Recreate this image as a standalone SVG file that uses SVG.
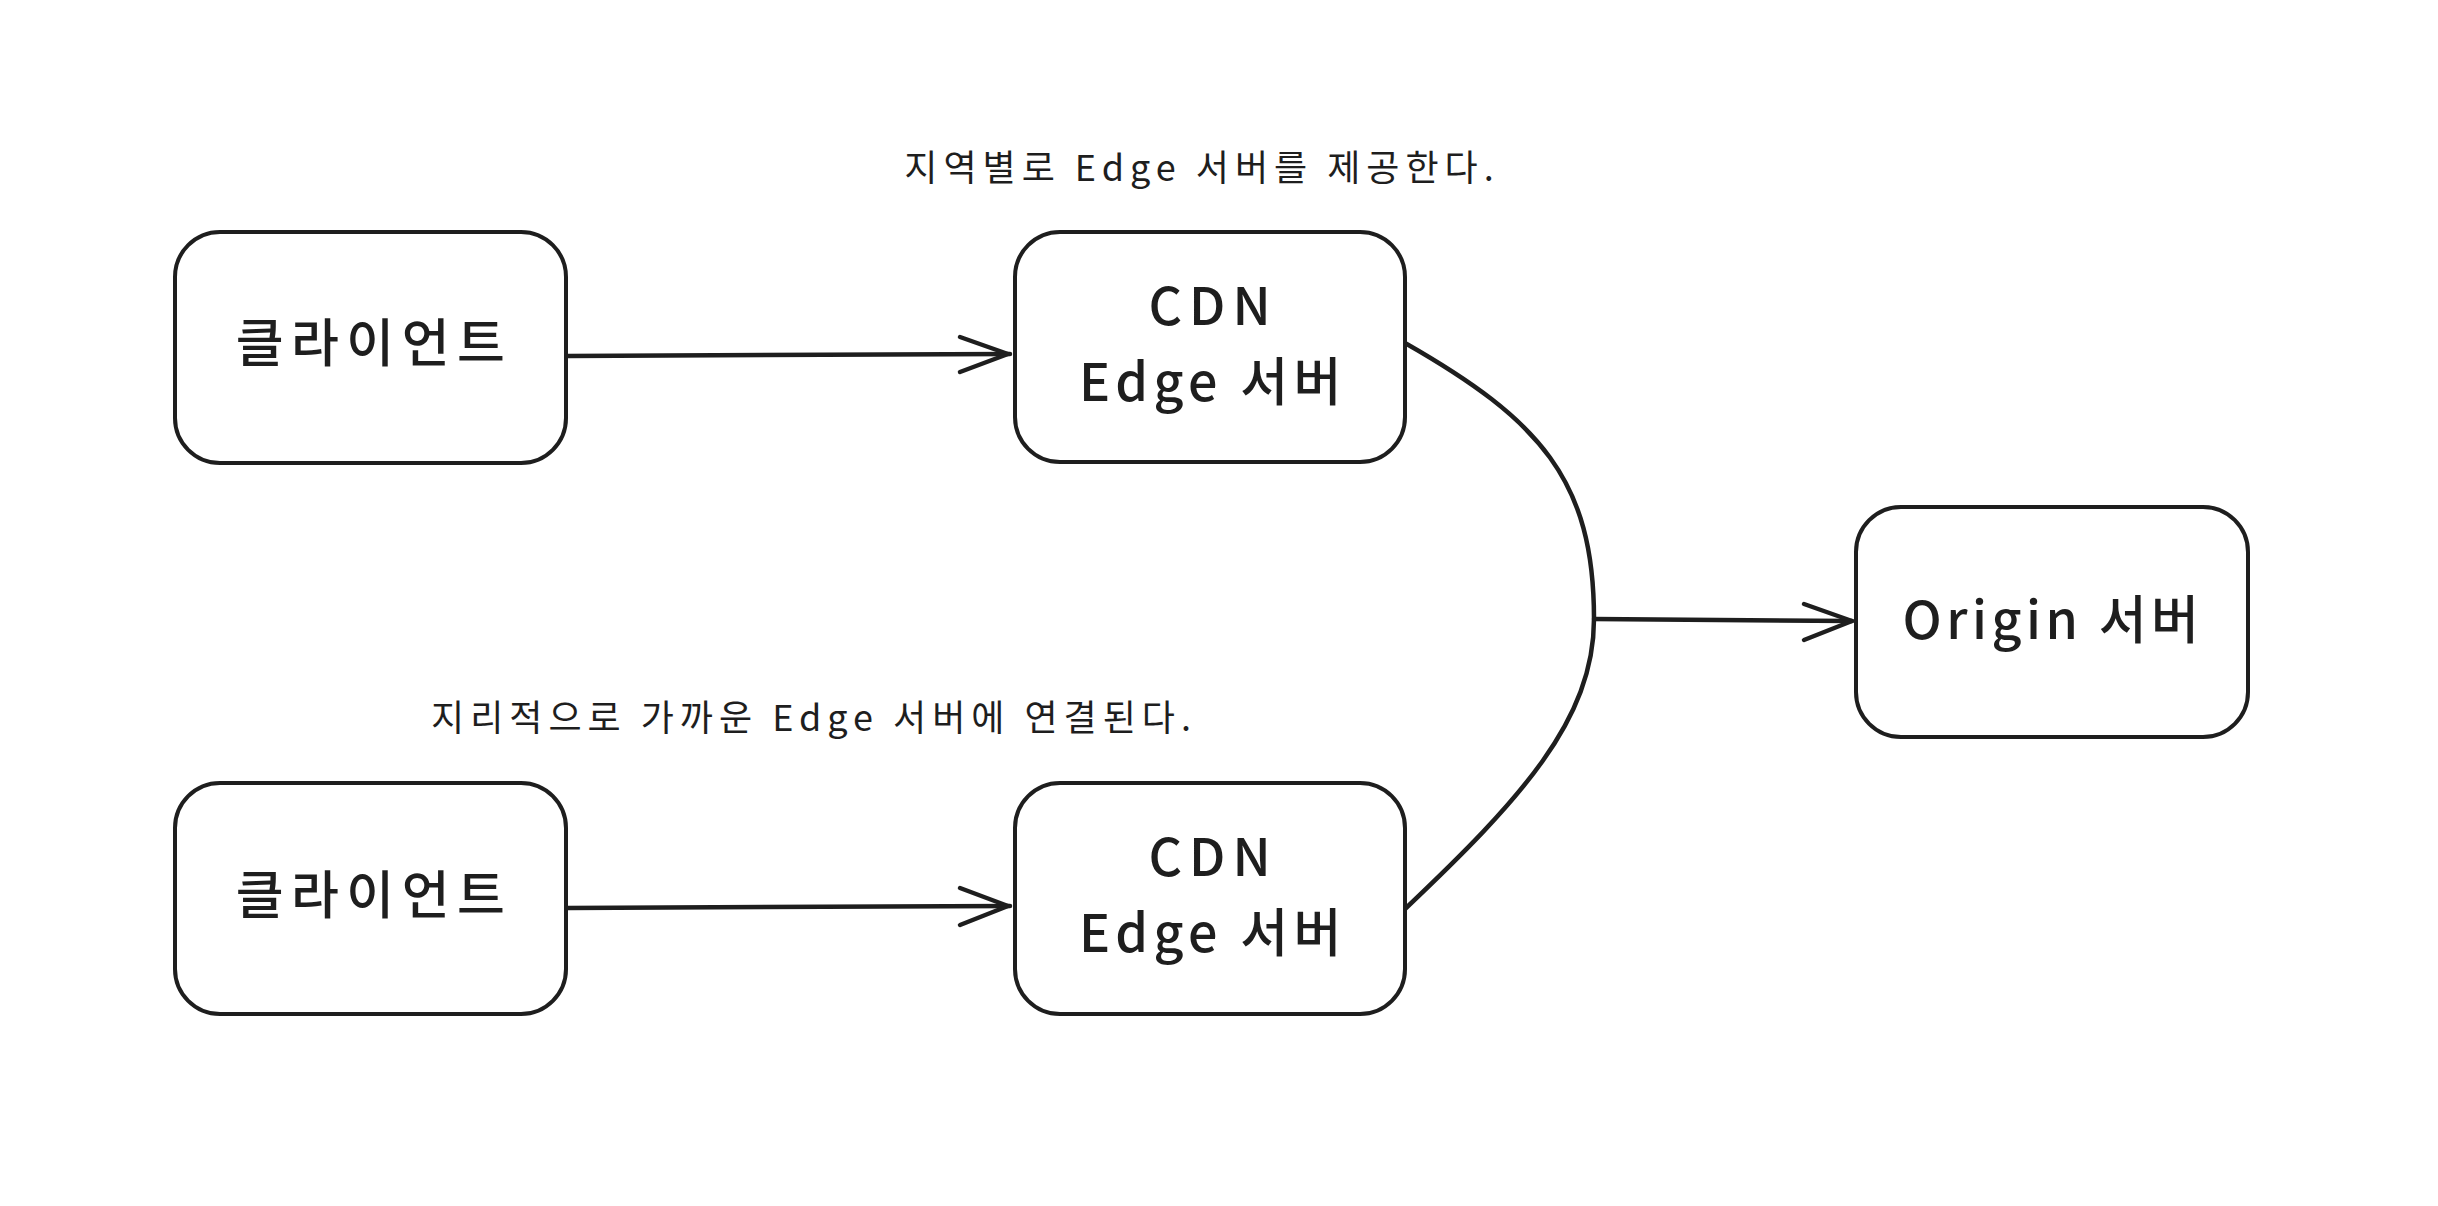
<svg xmlns="http://www.w3.org/2000/svg" width="2438" height="1206" viewBox="0 0 2438 1206">
<style>
.box{fill:#ffffff;stroke:#1e1e1e;stroke-width:4;}
.ln{fill:none;stroke:#1e1e1e;stroke-width:4.5;stroke-linecap:round;stroke-linejoin:round;}
.t{font-family:"Noto Sans CJK KR","Noto Sans",sans-serif;fill:#1e1e1e;text-anchor:middle;}
.big{font-size:52px;font-weight:500;}
.small{font-size:36px;letter-spacing:6px;}
</style>
<rect width="2438" height="1206" fill="#ffffff"/>
<g id="connectors">
<path class="ln" d="M568,356 L1010,354"/>
<path class="ln" d="M960,337 L1008,354 L960,372"/>
<path class="ln" d="M568,908 L1010,906"/>
<path class="ln" d="M960,888 L1008,906 L960,925"/>
<path class="ln" d="M1405,343 C1540,420 1594,480 1594,619 C1594,720 1520,800 1405,909"/>
<path class="ln" d="M1594,619 L1852,621"/>
<path class="ln" d="M1804,604 L1852,621 L1804,640"/>
</g>
<g id="label-top"><text class="t small" x="1202" y="181">지역별로 Edge 서버를 제공한다.</text></g>
<g id="label-bottom"><text class="t small" x="814" y="731">지리적으로 가까운 Edge 서버에 연결된다.</text></g>
<g id="client1">
<rect class="box" x="175" y="232" width="391" height="231" rx="45"/>
<text class="t big" x="374" y="362" letter-spacing="7.5">클라이언트</text>
</g>
<g id="cdn1">
<rect class="box" x="1015" y="232" width="390" height="230" rx="45"/>
<text class="t big" x="1213" y="325" letter-spacing="7">CDN</text>
<text class="t big" x="1213" y="401" letter-spacing="5.5">Edge 서버</text>
</g>
<g id="client2">
<rect class="box" x="175" y="783" width="391" height="231" rx="45"/>
<text class="t big" x="374" y="914" letter-spacing="7.5">클라이언트</text>
</g>
<g id="cdn2">
<rect class="box" x="1015" y="783" width="390" height="231" rx="45"/>
<text class="t big" x="1213" y="876" letter-spacing="7">CDN</text>
<text class="t big" x="1213" y="952" letter-spacing="5.5">Edge 서버</text>
</g>
<g id="origin">
<rect class="box" x="1856" y="507" width="392" height="230" rx="45"/>
<text class="t big" x="2053" y="639" letter-spacing="4.5">Origin 서버</text>
</g>
</svg>
